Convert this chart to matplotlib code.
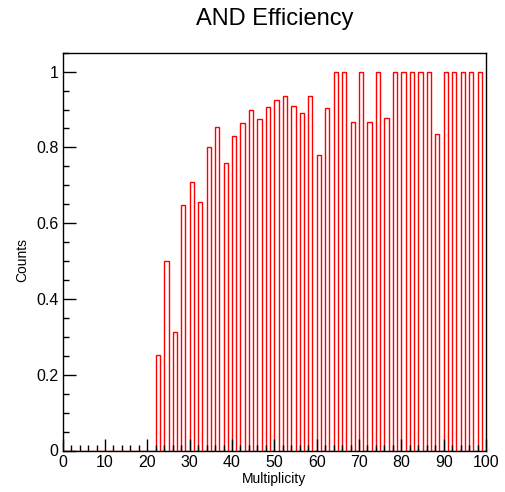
import numpy as np
import matplotlib
matplotlib.use("Agg")
import matplotlib.pyplot as plt
from matplotlib.ticker import MultipleLocator

plt.rcParams['font.family'] = ['Liberation Sans', 'DejaVu Sans']

# Data: efficiency per multiplicity bin (bins of width 1 from 0 to 100)
multiplicity = [22, 24, 26, 28, 30, 32, 34, 36, 38, 40,
                42, 44, 46, 48, 50, 52, 54, 56, 58, 60,
                62, 64, 66, 68, 70, 72, 74, 76, 78, 80,
                82, 84, 86, 88, 90, 92, 94, 96, 98]
efficiency = [0.252, 0.500, 0.313, 0.649, 0.709, 0.656, 0.801, 0.854, 0.758, 0.829,
              0.864, 0.900, 0.875, 0.907, 0.924, 0.935, 0.910, 0.892, 0.935, 0.780,
              0.903, 1.0, 1.0, 0.868, 1.0, 0.868, 1.0, 0.878, 1.0, 1.0,
              1.0, 1.0, 1.0, 0.835, 1.0, 1.0, 1.0, 1.0, 1.0]
bin_edges = np.arange(0, 101, 1)
x_ticks = [0, 10, 20, 30, 40, 50, 60, 70, 80, 90, 100]
y_ticks = [0, 0.2, 0.4, 0.6, 0.8, 1.0]
y_tick_labels = ['0', '0.2', '0.4', '0.6', '0.8', '1']

counts = np.zeros(len(bin_edges) - 1)
for m, e in zip(multiplicity, efficiency):
    counts[m] = e

W, H = 505, 492
fig = plt.figure(figsize=(W / 100, H / 100), dpi=100)
left, right, top, bottom = 62.7, 486.0, 52.7, 450.5
ax = fig.add_axes([left / W, 1 - bottom / H, (right - left) / W, (bottom - top) / H])

ax.stairs(counts, bin_edges, color='#ff0000', linewidth=1.0, baseline=0, fill=False)

ax.set_xlim(0, 100)
ax.set_ylim(0, 1.05)
ax.set_xticks(x_ticks)
ax.set_xticklabels([str(t) for t in x_ticks])
ax.set_yticks(y_ticks)
ax.set_yticklabels(y_tick_labels)
ax.xaxis.set_minor_locator(MultipleLocator(2))
ax.yaxis.set_minor_locator(MultipleLocator(0.05))

ax.tick_params(axis='both', which='major', direction='in', length=9, width=1.0,
               labelsize=11.5, color='black', top=False, right=False)
ax.tick_params(axis='both', which='minor', direction='in', length=4.5, width=1.0,
               top=False, right=False)
ax.tick_params(axis='x', which='major', pad=3)
ax.tick_params(axis='y', which='major', pad=3)

for s in ax.spines.values():
    s.set_linewidth(1.0)
    s.set_color('black')
    s.set_zorder(3)

ax.set_xlabel('Multiplicity', fontsize=10, labelpad=1.5)
ax.set_ylabel('Counts', fontsize=10)
ax.yaxis.set_label_coords(-0.078, 0.48)
fig.text((left + right) / 2 / W, 1 - 19 / H, 'AND Efficiency', ha='center', va='center',
         fontsize=17)

fig.savefig('out.png', dpi=100)
